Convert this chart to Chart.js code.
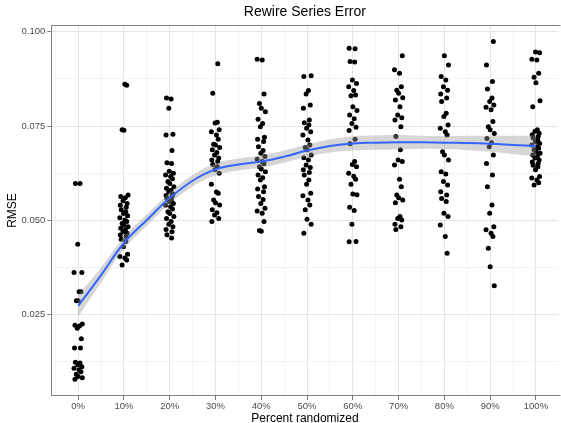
<!DOCTYPE html>
<html>
<head>
<meta charset="utf-8">
<title>Rewire Series Error</title>
<script src="https://cdn.jsdelivr.net/npm/chart.js@4.4.0/dist/chart.umd.min.js"></script>
<style>
  html, body { margin: 0; padding: 0; background: #fff; overflow: hidden; }
</style>
</head>
<body>
<canvas id="chart" width="561" height="423"></canvas>
<script>
// percent of edges randomized (x categories)
const xLevels = [0, 10, 20, 30, 40, 50, 60, 70, 80, 90, 100];

// RMSE of each run per category
const rmse0 = [0.0598, 0.0598, 0.0437, 0.0362, 0.0362, 0.0311, 0.0311, 0.0287, 0.0287, 0.0225, 0.0222, 0.0220,
  0.0214, 0.0186, 0.0162, 0.0162, 0.0124, 0.0122, 0.0117, 0.0112, 0.0108, 0.0104, 0.0099, 0.0092, 0.0086, 0.0083, 0.0079];
const rmse10 = [0.0861, 0.0858, 0.0740, 0.0739, 0.0567, 0.0563, 0.0560, 0.0552, 0.0545, 0.0540, 0.0535, 0.0528,
  0.0523, 0.0518, 0.0512, 0.0507, 0.0501, 0.0497, 0.0492, 0.0488, 0.0483, 0.0479, 0.0475, 0.0470, 0.0466, 0.0461,
  0.0457, 0.0450, 0.0444, 0.0430, 0.0410, 0.0404, 0.0400, 0.0395, 0.0382];
const rmse20 = [0.0824, 0.0822, 0.0797, 0.0728, 0.0726, 0.0685, 0.0653, 0.0651, 0.0630, 0.0625, 0.0620, 0.0616,
  0.0610, 0.0603, 0.0598, 0.0589, 0.0585, 0.0580, 0.0576, 0.0570, 0.0566, 0.0563, 0.0558, 0.0553, 0.0550, 0.0545,
  0.0540, 0.0536, 0.0530, 0.0523, 0.0518, 0.0510, 0.0505, 0.0497, 0.0490, 0.0483, 0.0476, 0.0470, 0.0462, 0.0453];
const rmse30 = [0.0915, 0.0837, 0.0760, 0.0758, 0.0740, 0.0735, 0.0726, 0.0715, 0.0702, 0.0700, 0.0693, 0.0687,
  0.0680, 0.0673, 0.0665, 0.0660, 0.0656, 0.0648, 0.0642, 0.0635, 0.0625, 0.0596, 0.0575, 0.0572, 0.0554, 0.0547,
  0.0541, 0.0528, 0.0520, 0.0514, 0.0505, 0.0497];
const rmse40 = [0.0927, 0.0925, 0.0835, 0.0810, 0.0797, 0.0788, 0.0768, 0.0757, 0.0748, 0.0720, 0.0715, 0.0709,
  0.0695, 0.0685, 0.0678, 0.0669, 0.0662, 0.0656, 0.0650, 0.0642, 0.0636, 0.0629, 0.0620, 0.0613, 0.0607, 0.0589,
  0.0583, 0.0576, 0.0563, 0.0555, 0.0545, 0.0532, 0.0525, 0.0519, 0.0497, 0.0473, 0.0471];
const rmse50 = [0.0883, 0.0881, 0.0844, 0.0835, 0.0806, 0.0797, 0.0766, 0.0759, 0.0753, 0.0744, 0.0735, 0.0726,
  0.0713, 0.0700, 0.0693, 0.0687, 0.0673, 0.0666, 0.0660, 0.0647, 0.0640, 0.0634, 0.0627, 0.0620, 0.0607, 0.0596,
  0.0572, 0.0565, 0.0554, 0.0541, 0.0528, 0.0503, 0.0490, 0.0466];
const rmse60 = [0.0956, 0.0955, 0.0921, 0.0920, 0.0872, 0.0863, 0.0854, 0.0844, 0.0832, 0.0830, 0.0801, 0.0791,
  0.0779, 0.0769, 0.0757, 0.0747, 0.0738, 0.0715, 0.0703, 0.0656, 0.0648, 0.0642, 0.0625, 0.0617, 0.0609, 0.0596,
  0.0570, 0.0568, 0.0535, 0.0526, 0.0490, 0.0444, 0.0443];
const rmse70 = [0.0936, 0.0899, 0.0890, 0.0854, 0.0845, 0.0837, 0.0825, 0.0819, 0.0801, 0.0779, 0.0772, 0.0766,
  0.0748, 0.0722, 0.0687, 0.0660, 0.0656, 0.0647, 0.0609, 0.0589, 0.0567, 0.0560, 0.0554, 0.0547, 0.0510, 0.0505,
  0.0501, 0.0490, 0.0483, 0.0476];
const rmse80 = [0.0936, 0.0912, 0.0881, 0.0872, 0.0854, 0.0845, 0.0835, 0.0824, 0.0815, 0.0784, 0.0775, 0.0753,
  0.0744, 0.0735, 0.0726, 0.0682, 0.0673, 0.0660, 0.0629, 0.0623, 0.0603, 0.0594, 0.0576, 0.0567, 0.0558, 0.0550,
  0.0519, 0.0510, 0.0488, 0.0457, 0.0413];
const rmse90 = [0.0974, 0.0912, 0.0868, 0.0848, 0.0824, 0.0815, 0.0806, 0.0800, 0.0793, 0.0762, 0.0748, 0.0740,
  0.0730, 0.0717, 0.0706, 0.0695, 0.0673, 0.0651, 0.0620, 0.0589, 0.0541, 0.0519, 0.0483, 0.0475, 0.0466, 0.0457,
  0.0426, 0.0377, 0.0327];
const rmse100 = [0.0946, 0.0944, 0.0927, 0.0925, 0.0890, 0.0879, 0.0865, 0.0817, 0.0801, 0.0740, 0.0736, 0.0731,
  0.0727, 0.0722, 0.0718, 0.0713, 0.0709, 0.0704, 0.0700, 0.0695, 0.0691, 0.0687, 0.0682, 0.0678, 0.0673, 0.0669,
  0.0665, 0.0660, 0.0655, 0.0651, 0.0646, 0.0642, 0.0634, 0.0616, 0.0612, 0.0607, 0.0600, 0.0594];
const rmseByLevel = [rmse0, rmse10, rmse20, rmse30, rmse40, rmse50, rmse60, rmse70, rmse80, rmse90, rmse100];

// loess smooth and its confidence band
const smoothX = [0, 5, 10, 15, 20, 25, 30, 35, 40, 45, 50, 55, 60, 65, 70, 75, 80, 85, 90, 95, 100];
const smoothFit = [0.0273, 0.0355, 0.0440, 0.0501, 0.0559, 0.0605, 0.0635, 0.0648, 0.0656, 0.0669, 0.0685,
  0.0697, 0.0704, 0.0706, 0.0707, 0.0707, 0.0706, 0.0705, 0.0703, 0.0700, 0.0697];
const smoothHi = [0.0302, 0.0375, 0.0456, 0.0516, 0.0574, 0.0620, 0.0651, 0.0664, 0.0672, 0.0685, 0.0701,
  0.0714, 0.0723, 0.0725, 0.0726, 0.0724, 0.0723, 0.0724, 0.0724, 0.0724, 0.0725];
const smoothLo = [0.0244, 0.0335, 0.0424, 0.0486, 0.0544, 0.0590, 0.0619, 0.0632, 0.0640, 0.0653, 0.0669,
  0.0680, 0.0685, 0.0687, 0.0688, 0.0690, 0.0689, 0.0686, 0.0682, 0.0676, 0.0669];

// axis breaks
const xMajor = [0, 10, 20, 30, 40, 50, 60, 70, 80, 90, 100];
const xMinor = [-5, 5, 15, 25, 35, 45, 55, 65, 75, 85, 95];
const yMajor = [0.025, 0.05, 0.075, 0.1];
const yMinor = [0.0125, 0.0375, 0.0625, 0.0875];

// fixed horizontal jitter pattern (percent units), only for display
const jitter = [-0.6, 0.4, -0.1, 0.8, -0.9, 0.2, 0.6, -0.4, 0.0, 0.9, -0.7, 0.3, -0.2, 0.7, -0.8, 0.5];

const points = [];
rmseByLevel.forEach((vals, i) => {
  vals.forEach((v, j) => {
    points.push({ x: xLevels[i] + jitter[(j + i * 5) % jitter.length], y: v });
  });
});

const toXY = ys => smoothX.map((x, i) => ({ x, y: ys[i] }));

const FONT = "'Liberation Sans', Arial, Helvetica, sans-serif";
const TICK_TEXT = '#4d4d4d';
const BORDER = '#7f7f7f';
const GRID_MAJOR = '#e5e5e5';
const GRID_MINOR = '#f3f3f3';

// panel frame: left, top and bottom (the right side falls off the picture)
const panelBorder = {
  id: 'panelBorder',
  afterDatasetsDraw(chart) {
    const { ctx, chartArea: a } = chart;
    const l = Math.round(a.left) + 0.5, t = Math.round(a.top) + 0.5, b = Math.round(a.bottom) - 0.5;
    ctx.save();
    ctx.strokeStyle = BORDER;
    ctx.lineWidth = 1;
    ctx.beginPath();
    ctx.moveTo(a.right + 2, t);
    ctx.lineTo(l, t);
    ctx.lineTo(l, b);
    ctx.lineTo(a.right + 2, b);
    ctx.stroke();
    ctx.restore();
  }
};

const chart = new Chart(document.getElementById('chart'), {
  type: 'scatter',
  data: {
    datasets: [
      {
        type: 'line', label: 'loess', data: toXY(smoothFit), order: 1,
        borderColor: '#3366FF', borderWidth: 2, pointRadius: 0, tension: 0.4, fill: false
      },
      {
        type: 'line', label: 'upper', data: toXY(smoothHi), order: 2,
        borderWidth: 0, borderColor: 'rgba(0,0,0,0)', pointRadius: 0, tension: 0.4,
        fill: '+1', backgroundColor: 'rgba(153,153,153,0.4)'
      },
      {
        type: 'line', label: 'lower', data: toXY(smoothLo), order: 2,
        borderWidth: 0, borderColor: 'rgba(0,0,0,0)', pointRadius: 0, tension: 0.4, fill: false
      },
      {
        label: 'RMSE', data: points, order: 3,
        backgroundColor: '#000', borderWidth: 0, pointRadius: 2.5, pointHoverRadius: 2.5
      }
    ]
  },
  options: {
    responsive: false,
    devicePixelRatio: 1,
    animation: false,
    layout: { padding: { left: 0, top: 0, bottom: 0, right: -4 } },
    plugins: {
      legend: { display: false },
      tooltip: { enabled: false },
      title: {
        display: true, text: 'Rewire Series Error', fullSize: false, color: '#000',
        font: { family: FONT, size: 14, weight: 'normal' },
        padding: { top: 3.5, bottom: 4.7 }
      }
    },
    scales: {
      x: {
        type: 'linear', min: -5.87, max: 104.93,
        afterBuildTicks: s => { s.ticks = xMinor.concat(xMajor).sort((a, b) => a - b).map(v => ({ value: v })); },
        afterFit: s => { s.height = 27; s.paddingLeft = 0; s.paddingRight = 0; },
        ticks: {
          autoSkip: false, maxRotation: 0, padding: 1, color: TICK_TEXT,
          font: { family: FONT, size: 9.5 },
          callback: v => xMajor.includes(v) ? v + '%' : ''
        },
        grid: {
          color: c => xMajor.includes(c.tick.value) ? GRID_MAJOR : GRID_MINOR,
          tickColor: c => xMajor.includes(c.tick.value) ? BORDER : 'rgba(0,0,0,0)',
          tickLength: 4
        },
        border: { display: false },
        title: {
          display: true, text: 'Percent randomized', color: '#000',
          font: { family: FONT, size: 12, lineHeight: 0.67 }, padding: 0
        }
      },
      y: {
        type: 'linear', min: 0.00345, max: 0.10178,
        afterBuildTicks: s => { s.ticks = yMinor.concat(yMajor).sort((a, b) => a - b).map(v => ({ value: v })); },
        afterFit: s => { s.width = 51.3; s.paddingTop = 0; s.paddingBottom = 0; },
        ticks: {
          autoSkip: false, padding: 2, color: TICK_TEXT,
          font: { family: FONT, size: 9.5 },
          callback: v => yMajor.includes(v) ? v.toFixed(3) : ''
        },
        grid: {
          color: c => yMajor.includes(c.tick.value) ? GRID_MAJOR : GRID_MINOR,
          tickColor: c => yMajor.includes(c.tick.value) ? BORDER : 'rgba(0,0,0,0)',
          tickLength: 4
        },
        border: { display: false },
        title: {
          display: true, text: 'RMSE', color: '#000',
          font: { family: FONT, size: 12 }, padding: { top: 5, bottom: 0 }
        }
      }
    }
  },
  plugins: [panelBorder]
});
</script>
</body>
</html>
